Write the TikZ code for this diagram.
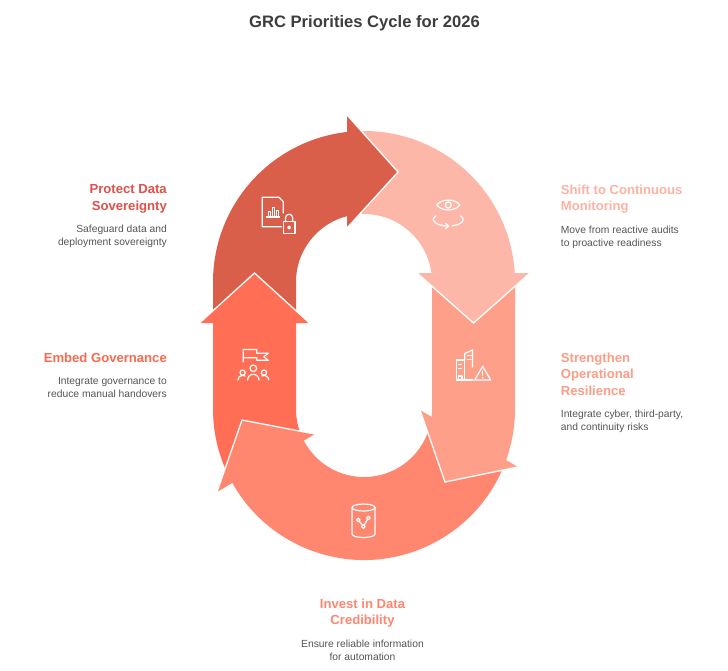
\documentclass[tikz,border=0pt]{standalone}
\usepackage{fontspec}
\setmainfont{Liberation Sans}
\usetikzlibrary{positioning,calc}
\definecolor{segA}{HTML}{D95F4A}
\definecolor{segB}{HTML}{FDB7A8}
\definecolor{segC}{HTML}{FE9F8A}
\definecolor{segD}{HTML}{FF8770}
\definecolor{segE}{HTML}{FF6E55}
\definecolor{headA}{HTML}{E0504A}
\definecolor{headB}{HTML}{FDB3A3}
\definecolor{headC}{HTML}{FD9D87}
\definecolor{headD}{HTML}{FF8670}
\definecolor{headE}{HTML}{FA6A50}
\definecolor{txtgray}{HTML}{555555}
\definecolor{titlegray}{HTML}{3D3D3D}
\tikzset{
  tip edge/.style={draw=white, line width=1.3pt, line join=miter},
  icon/.style={draw=white, line width=1.2pt, line cap=round, line join=round},
  cyclehead/.style={text=#1, font=\fontsize{13.1}{16.5}\selectfont\bfseries, inner sep=0pt, text depth=0pt},
  cycledesc/.style={text=txtgray, font=\fontsize{10.3}{13.2}\selectfont, inner sep=0pt},
  cycletitle/.style={text=titlegray, font=\fontsize{16.6}{20}\selectfont\bfseries, inner sep=0pt}
}
\begin{document}
\begin{tikzpicture}[x=1pt, y=-1pt]
  \path[use as bounding box, fill=white] (0,0) rectangle (728,670);
  \def\ri{68}
  \def\ro{151}
  \coordinate (T) at (364,282);
  \coordinate (B) at (364,409);

  % ring bands
  \fill[segA] (213,323) -- (213,282) arc[start angle=180, end angle=264, radius=\ro]
    -- ($(T)+(264:\ri)$) arc[start angle=264, end angle=180, radius=\ri] -- (296,323) -- cycle;
  \fill[segB] ($(T)+(268:\ro)$) arc[start angle=268, end angle=356.6, radius=\ro]
    -- ($(T)+(356.6:\ri)$) arc[start angle=356.6, end angle=268, radius=\ri] -- cycle;
  \fill[segC] (515,282) -- (515,409) arc[start angle=0, end angle=20, radius=\ro]
    -- ($(B)+(20:\ri)$) arc[start angle=20, end angle=0, radius=\ri] -- (432,282) -- cycle;
  \fill[segD] ($(B)+(20:\ro)$) arc[start angle=20, end angle=152, radius=\ro]
    -- ($(B)+(152:\ri)$) arc[start angle=152, end angle=20, radius=\ri] -- cycle;
  \fill[segE] ($(B)+(152:\ro)$) arc[start angle=152, end angle=180, radius=\ro]
    -- (213,323) -- (296,323) -- (296,409) arc[start angle=180, end angle=152, radius=\ri] -- cycle;

  % arrow heads
  \foreach \ca/\tp/\cb/\col in {
      {347,115}/{398,172}/{347,228}/segA,
      {530,273}/{473.5,323}/{417,273}/segB,
      {518,467}/{445,482}/{420,410}/segC,
      {217,492}/{242,420}/{315,434}/segD,
      {199.5,323}/{254.5,273}/{309.5,323}/segE} {
    \fill[\col] (\ca) -- (\tp) -- (\cb) -- cycle;
    \draw[tip edge] (\ca) -- (\tp) -- (\cb);
  }

  % icons
  \draw[icon] (283.3,213) -- (283.3,201.7) -- (279,197.3) -- (262.3,197.3) -- (262.3,226.7) -- (281.5,226.7);
  \draw[icon] (266.5,217) -- (279.5,217);
  \draw[icon] (268.3,217) -- (268.3,211.5) -- (270.5,211.5) -- (270.5,217);
  \draw[icon] (272.3,217) -- (272.3,207.8) -- (274.5,207.8) -- (274.5,217);
  \draw[icon] (276.3,217) -- (276.3,210.2) -- (278.5,210.2) -- (278.5,217);
  \draw[icon] (283.3,221.7) rectangle (295,233.3);
  \draw[icon] (285.5,221.7) -- (285.5,217.8) arc[start angle=180, end angle=360, radius=3.6] -- (292.7,221.7);
  \draw[icon] (289.1,227.5) circle[radius=1.4];

  \coordinate (eyeC) at (448.3,219.5);
  \draw[icon] (436.7,205) .. controls (441.5,198.5) and (455.1,198.5) .. (459.9,205)
    .. controls (455.1,211.5) and (441.5,211.5) .. (436.7,205);
  \draw[icon] (448.3,205) circle[radius=3];
  \draw[icon] ($(eyeC)+(215:15 and 6.5)$) arc[start angle=215, end angle=90, x radius=15, y radius=6.5];
  \draw[icon] (445.6,223.3) -- (448.6,226) -- (445.6,228.7);
  \draw[icon] ($(eyeC)+(75:15 and 6.5)$) arc[start angle=75, end angle=-35, x radius=15, y radius=6.5];

  \draw[icon] (456.3,380) -- (456.3,360) -- (464.7,360) -- (464.7,380);
  \draw[icon] (464.7,360) -- (464.7,353.5) -- (472.5,350) -- (472.5,367);
  \draw[icon] (467.3,355.5) -- (472.5,355.5) (467.3,359.5) -- (472.5,359.5)
    (458.6,364.5) -- (461.5,364.5) (458.6,368.5) -- (461.5,368.5);
  \draw[icon] (458.8,380) -- (458.8,376) -- (462,376) -- (462,380);
  \draw[icon] (456.3,380) -- (473,380);
  \draw[icon] (474.7,380) -- (482.7,366.3) -- (490.7,380) -- cycle;
  \draw[icon] (482.7,370.8) -- (482.7,375.3);
  \fill[white] (482.7,377.8) circle[radius=0.8];

  \draw[icon] (363.5,507.5) ellipse[x radius=11.5, y radius=3.5];
  \draw[icon] (352,507.5) -- (352,534) arc[start angle=180, end angle=0, x radius=11.5, y radius=3.5] -- (375,507.5);
  \draw[icon] (358.3,520) -- (363.3,526.6) -- (368.4,517.8);
  \foreach \p in {{358.3,520}, {363.3,526.6}, {368.4,517.8}}
    \draw[icon, fill=segD] (\p) circle[radius=1.8];

  \draw[icon] (243.3,362) -- (243.3,349.5) -- (256.7,349.5) -- (256.7,353.3) -- (268.3,353.3)
    -- (263.8,356.8) -- (268.3,360.3) -- (256.7,360.3) -- (256.7,357.7) -- (243.3,357.7);
  \draw[icon] (253.3,368.3) circle[radius=3.3];
  \draw[icon] (247.6,380) arc[start angle=180, end angle=360, radius=5.7];
  \draw[icon] (242.6,372.6) circle[radius=2.6];
  \draw[icon] (237.9,380) arc[start angle=180, end angle=300, radius=4.7];
  \draw[icon] (264,372.6) circle[radius=2.6];
  \draw[icon] (261.65,375.9) arc[start angle=240, end angle=360, radius=4.7];

  % texts
  \node (title) [cycletitle, anchor=north] at (364.5,15.5) {GRC Priorities Cycle for 2026};

  \node (protH) [cyclehead=headA, anchor=north east, align=right] at (167,184.6) {Protect Data\\Sovereignty};
  \node (protD) [cycledesc, align=right, below=14.4pt of protH.south east, anchor=north east] {Safeguard data and\\deployment sovereignty};

  \node (embH) [cyclehead=headE, anchor=north east, align=right] at (167,352.6) {Embed Governance};
  \node (embD) [cycledesc, align=right, below=14.4pt of embH.south east, anchor=north east] {Integrate governance to\\reduce manual handovers};

  \node (shiftH) [cyclehead=headB, anchor=north west, align=left] at (560.7,184.6) {Shift to Continuous\\Monitoring};
  \node (shiftD) [cycledesc, align=left, below=14.4pt of shiftH.south west, anchor=north west] {Move from reactive audits\\to proactive readiness};

  \node (strH) [cyclehead=headC, anchor=north west, align=left] at (560.7,352.6) {Strengthen\\Operational\\Resilience};
  \node (strD) [cycledesc, align=left, below=14.4pt of strH.south west, anchor=north west] {Integrate cyber, third-party,\\and continuity risks};

  \node (invH) [cyclehead=headD, anchor=north, align=center] at (362.5,598.6) {Invest in Data\\Credibility};
  \node (invD) [cycledesc, align=center, below=14.4pt of invH.south] {Ensure reliable information\\for automation};
\end{tikzpicture}
\end{document}
